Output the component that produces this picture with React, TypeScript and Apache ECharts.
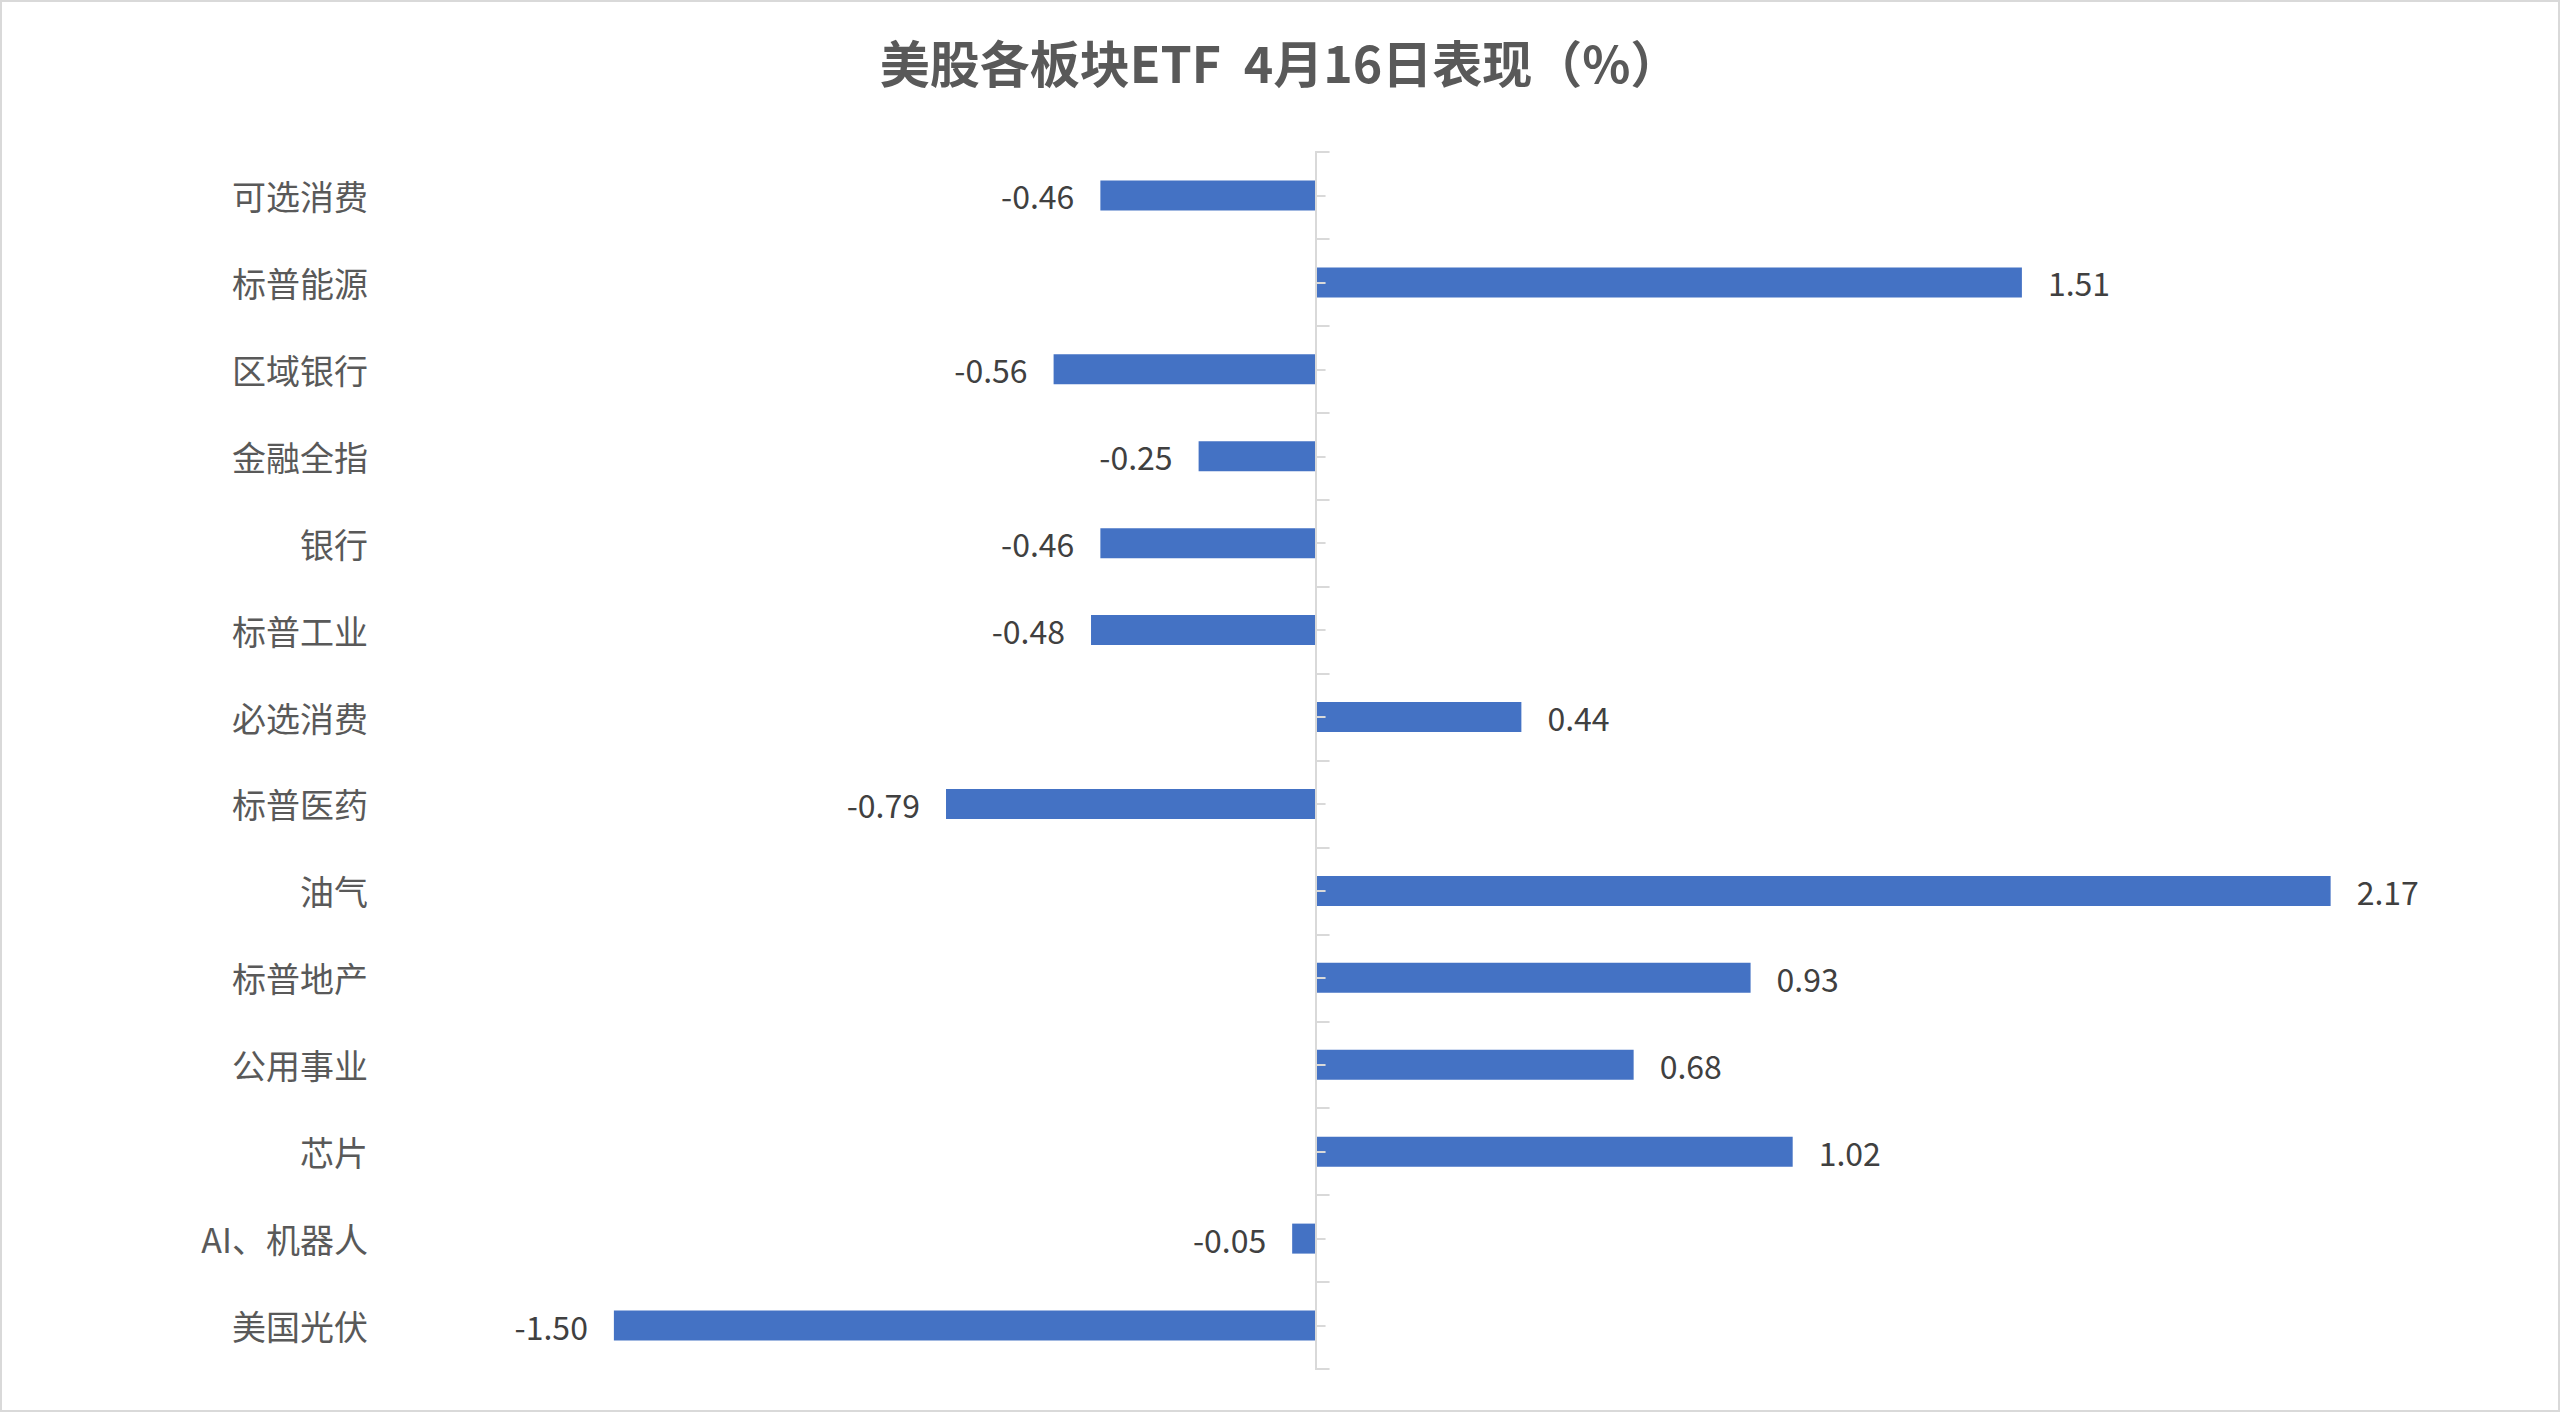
import React, { useEffect, useRef } from 'react';
import * as echarts from 'echarts';

// 板块名称（自上而下）
const categories: string[] = [
    '可选消费', '标普能源', '区域银行', '金融全指', '银行', '标普工业', '必选消费',
    '标普医药', '油气', '标普地产', '公用事业', '芯片', 'AI、机器人', '美国光伏',
];

// 4月16日涨跌幅（%）
const changes: number[] = [
    -0.46, 1.51, -0.56, -0.25, -0.46, -0.48, 0.44,
    -0.79, 2.17, 0.93, 0.68, 1.02, -0.05, -1.50,
];

const titleText = '美股各板块ETF  4月16日表现（%）';
const xMin = -2;
const xMax = 2.5;

const FONT = '"Noto Sans CJK SC", "Noto Sans", sans-serif';
const AXIS_GRAY = '#d9d9d9';

const App: React.FC = () => {
    const chartRef = useRef<HTMLDivElement>(null);

    useEffect(() => {
        if (!chartRef.current) return;
        const chart = echarts.init(chartRef.current, null, { renderer: 'svg' });

        const option = {
            animation: false,
            backgroundColor: '#ffffff',
            title: {
                text: titleText,
                left: 'center',
                top: 31,
                textStyle: {
                    fontFamily: FONT,
                    fontSize: 50,
                    fontWeight: 'bold',
                    color: '#595959',
                },
            },
            graphic: [
                {
                    type: 'rect',
                    shape: { x: 1, y: 1, width: 2558, height: 1410 },
                    style: { fill: 'none', stroke: AXIS_GRAY, lineWidth: 2 },
                    silent: true,
                },
            ],
            grid: {
                left: 380,
                right: 75,
                top: 152,
                bottom: 43,
                outerBoundsMode: 'none',
            },
            xAxis: {
                type: 'value',
                min: xMin,
                max: xMax,
                show: false,
            },
            yAxis: [
                {
                    // 左侧类目标签
                    type: 'category',
                    position: 'left',
                    inverse: true,
                    data: categories,
                    axisLine: { show: false, onZero: false },
                    axisTick: { show: false },
                    axisLabel: {
                        fontFamily: FONT,
                        fontSize: 34,
                        color: '#595959',
                        margin: 12,
                    },
                },
                {
                    // 零线及分隔刻度
                    type: 'category',
                    position: 'left',
                    inverse: true,
                    data: categories,
                    z: 10,
                    axisLine: {
                        onZero: true,
                        onZeroAxisIndex: 0,
                        lineStyle: { color: AXIS_GRAY, width: 2 },
                    },
                    axisTick: {
                        show: true,
                        interval: 0,
                        inside: true,
                        length: 14,
                        lineStyle: { color: AXIS_GRAY, width: 2 },
                    },
                    axisLabel: { show: false },
                },
                {
                    // 类目中心的短刻度
                    type: 'category',
                    position: 'left',
                    inverse: true,
                    data: categories,
                    z: 10,
                    axisLine: {
                        onZero: true,
                        onZeroAxisIndex: 0,
                        lineStyle: { color: AXIS_GRAY, width: 2 },
                    },
                    axisTick: {
                        show: true,
                        interval: 0,
                        inside: true,
                        alignWithLabel: true,
                        length: 10,
                        lineStyle: { color: AXIS_GRAY, width: 2 },
                    },
                    axisLabel: { show: false },
                },
            ],
            series: [
                {
                    type: 'bar',
                    yAxisIndex: 0,
                    barWidth: 30,
                    itemStyle: { color: '#4472C4' },
                    data: changes.map((v) => ({
                        value: v,
                        label: { position: v < 0 ? 'left' : 'right' },
                    })),
                    label: {
                        show: true,
                        distance: 26,
                        fontFamily: FONT,
                        fontSize: 32,
                        color: '#404040',
                        formatter: (p: any) => Number(p.value).toFixed(2),
                    },
                },
            ],
        };

        chart.setOption(option);

        return () => {
            chart.dispose();
        };
    }, []);

    return (
        <div
            ref={chartRef}
            style={{ position: 'fixed', left: 0, top: 0, width: 2560, height: 1412 }}
        />
    );
};

export default App;
